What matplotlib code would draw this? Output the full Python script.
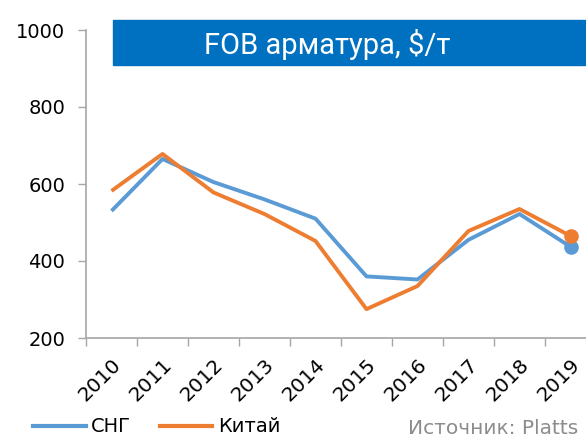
import matplotlib
matplotlib.use("Agg")
import matplotlib.pyplot as plt
from matplotlib.lines import Line2D
from matplotlib.patches import Rectangle

years = ["2010", "2011", "2012", "2013", "2014", "2015", "2016", "2017", "2018", "2019"]
sng = [530, 665, 605, 560, 510, 360, 352, 455, 522, 437]
china = [582, 678, 578, 522, 452, 275, 335, 478, 535, 465]

blue = "#5B9BD5"
orange = "#ED7D31"
grey = "#A6A6A6"

fig = plt.figure(figsize=(5.86, 4.38), dpi=100)
# ось уходит за правый край картинки, как в оригинале
ax = fig.add_axes([86 / 586, 100 / 438, 510 / 586, 308 / 438])

x = list(range(len(years)))
ax.plot(x, sng, color=blue, lw=2.8, solid_capstyle="butt", zorder=3)
ax.plot(x, china, color=orange, lw=2.8, solid_capstyle="butt", zorder=3)
ax.plot(x[-1], sng[-1], "o", color=blue, ms=9.5, zorder=4)
ax.plot(x[-1], china[-1], "o", color=orange, ms=9.5, zorder=4)

ax.set_xlim(-0.5, len(years) - 0.5)
ax.set_ylim(200, 1000)
ax.set_yticks([200, 400, 600, 800, 1000])
ax.set_xticks([i - 0.5 for i in range(len(years) + 1)])
ax.set_xticklabels([])
ax.set_xticks(x, minor=True)
ax.set_xticklabels(years, minor=True, rotation=45, ha="right", va="top",
                   rotation_mode="anchor", fontsize=14.5)
ax.tick_params(axis="x", which="minor", length=0, pad=12)
ax.tick_params(axis="x", which="major", length=6, color=grey, width=1)
ax.tick_params(axis="y", length=6, color=grey, width=1, labelsize=14, pad=9)

for s in ["top", "right"]:
    ax.spines[s].set_visible(False)
for s in ["left", "bottom"]:
    ax.spines[s].set_color(grey)
    ax.spines[s].set_linewidth(1.2)

# синяя плашка с заголовком
fig.patches.append(Rectangle((113 / 586, 373 / 438), 1, 45 / 438,
                             transform=fig.transFigure, color="#0070C0", zorder=5))
fig.text(327 / 586, 394 / 438, "FOB арматура, $/т", color="white", fontsize=21,
         family="Roboto", ha="center", va="center", zorder=6)

handles = [Line2D([], [], color=blue, lw=3), Line2D([], [], color=orange, lw=3)]
fig.legend(handles, ["СНГ", "Китай"], loc="center left", bbox_to_anchor=(33 / 586, 11 / 438),
           ncol=2, frameon=False, fontsize=14, handlelength=2.7, handletextpad=0.3,
           columnspacing=1.45, borderaxespad=0, borderpad=0)
fig.text(408 / 586, 10 / 438, "Источник: Platts", color="#8C8C8C", fontsize=14.5,
         ha="left", va="center")

fig.savefig("out.png", dpi=100)
